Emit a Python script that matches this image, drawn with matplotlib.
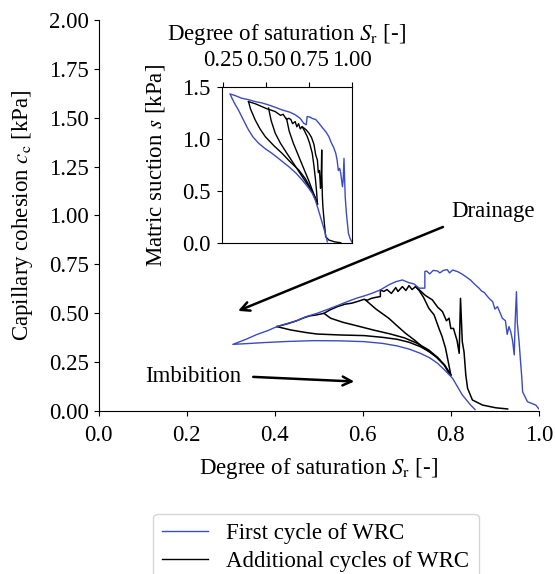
#!/usr/bin/env python3
"""Capillary cohesion vs degree of saturation, with WRC inset."""

import matplotlib

matplotlib.use("Agg")
import matplotlib.pyplot as plt
from matplotlib.lines import Line2D

plt.rcParams["font.family"] = ["Liberation Serif", "DejaVu Serif"]
plt.rcParams["mathtext.fontset"] = "stix"
plt.rcParams["font.size"] = 16.5

BLUE = "#3b4cc0"

# ---- main panel: capillary cohesion c_c [kPa] vs S_r ----
# first cycle: drainage (right -> left) then imbibition (left -> right)
first_sr = [
    1.000, 0.993, 0.974, 0.963, 0.961, 0.958, 0.955, 0.951, 0.949, 0.946,
    0.944, 0.940, 0.936, 0.932, 0.928, 0.924, 0.917, 0.912, 0.906, 0.900,
    0.895, 0.889, 0.883, 0.876, 0.870, 0.864, 0.855, 0.845, 0.834, 0.825,
    0.815, 0.804, 0.797, 0.792, 0.783, 0.775, 0.770, 0.760, 0.752, 0.745,
    0.741, 0.741, 0.738, 0.728, 0.716, 0.705, 0.690, 0.675, 0.660, 0.640,
    0.620, 0.603, 0.585, 0.565, 0.545, 0.520, 0.496, 0.470, 0.450, 0.430,
    0.405, 0.385, 0.360, 0.335, 0.305,
    0.330, 0.375, 0.430, 0.489, 0.550, 0.603, 0.645, 0.678, 0.705, 0.731,
    0.752, 0.770, 0.787, 0.804, 0.826, 0.845, 0.855,
]
first_cc = [
    0.008, 0.028, 0.045, 0.096, 0.173, 0.260, 0.353, 0.450, 0.609, 0.450,
    0.285, 0.360, 0.404, 0.430, 0.390, 0.460, 0.473, 0.500, 0.532, 0.520,
    0.558, 0.570, 0.585, 0.605, 0.612, 0.627, 0.645, 0.668, 0.686, 0.700,
    0.712, 0.720, 0.705, 0.722, 0.718, 0.705, 0.715, 0.718, 0.700, 0.715,
    0.712, 0.627, 0.627, 0.627, 0.649, 0.655, 0.669, 0.660, 0.645, 0.618,
    0.600, 0.587, 0.575, 0.558, 0.540, 0.518, 0.498, 0.480, 0.460, 0.447,
    0.430, 0.410, 0.390, 0.365, 0.339,
    0.342, 0.348, 0.354, 0.358, 0.357, 0.353, 0.344, 0.331, 0.315, 0.293,
    0.270, 0.242, 0.205, 0.165, 0.080, 0.028, 0.005,
]

# additional cycles (each a separate branch)
drain1_sr = [
    0.800, 0.795, 0.788, 0.780, 0.773, 0.762, 0.750, 0.738, 0.728, 0.720,
    0.712, 0.705, 0.698, 0.690, 0.680, 0.675, 0.665, 0.655, 0.648, 0.640,
    0.640, 0.630, 0.620, 0.610, 0.603, 0.590, 0.575, 0.560, 0.542, 0.525,
    0.512, 0.495, 0.480, 0.466, 0.450, 0.430, 0.405,
]
drain1_cc = [
    0.182, 0.240, 0.319, 0.380, 0.421, 0.490, 0.524, 0.580, 0.615, 0.635,
    0.620, 0.640, 0.615, 0.635, 0.610, 0.630, 0.600, 0.620, 0.610, 0.618,
    0.584, 0.580, 0.575, 0.565, 0.570, 0.560, 0.550, 0.545, 0.532, 0.515,
    0.498, 0.490, 0.485, 0.475, 0.460, 0.445, 0.430,
]
drain2_sr = [
    0.929, 0.902, 0.872, 0.849, 0.838, 0.834, 0.830, 0.826, 0.822, 0.819,
    0.814, 0.810, 0.806, 0.800, 0.796, 0.790, 0.781, 0.770, 0.758, 0.742,
    0.730, 0.720,
]
drain2_cc = [
    0.008, 0.014, 0.028, 0.054, 0.114, 0.182, 0.300, 0.353, 0.575, 0.293,
    0.360, 0.390, 0.421, 0.420, 0.473, 0.460, 0.507, 0.530, 0.567, 0.590,
    0.615, 0.635,
]
wet1_sr = [0.405, 0.436, 0.470, 0.496, 0.550, 0.603, 0.645, 0.678, 0.705,
           0.731, 0.752, 0.770, 0.786, 0.800]
wet1_cc = [0.430, 0.413, 0.400, 0.392, 0.387, 0.384, 0.375, 0.365, 0.350,
           0.327, 0.300, 0.270, 0.232, 0.182]
wet2_sr = [0.512, 0.527, 0.555, 0.580, 0.625, 0.663, 0.695, 0.724, 0.750,
           0.770, 0.786, 0.800]
wet2_cc = [0.498, 0.473, 0.452, 0.438, 0.412, 0.392, 0.372, 0.344, 0.310,
           0.272, 0.232, 0.182]
wet3_sr = [0.606, 0.630, 0.659, 0.680, 0.697, 0.718, 0.735, 0.752, 0.766,
           0.785, 0.796]
wet3_cc = [0.567, 0.520, 0.473, 0.430, 0.396, 0.360, 0.327, 0.300, 0.276,
           0.233, 0.190]

# ---- inset: matric suction s [kPa] vs S_r ----
in_first_sr = [
    1.000, 0.990, 0.981, 0.969, 0.962, 0.955, 0.950, 0.946, 0.940, 0.936,
    0.930, 0.922, 0.915, 0.907, 0.895, 0.880, 0.867, 0.850, 0.830, 0.809,
    0.790, 0.770, 0.755, 0.740, 0.735, 0.720, 0.700, 0.672, 0.640, 0.594,
    0.550, 0.515, 0.475, 0.437, 0.400, 0.359, 0.320, 0.290,
    0.300, 0.315, 0.339, 0.370, 0.398, 0.425, 0.457, 0.495, 0.535, 0.585,
    0.633, 0.675, 0.711, 0.745, 0.770, 0.787, 0.800, 0.815, 0.829, 0.845,
    0.858,
]
in_first_s = [
    0.015, 0.050, 0.096, 0.288, 0.450, 0.817, 0.600, 0.544, 0.620, 0.673,
    0.720, 0.700, 0.800, 0.865, 0.920, 0.970, 1.025, 1.070, 1.110, 1.154,
    1.190, 1.200, 1.215, 1.218, 1.140, 1.154, 1.200, 1.234, 1.260, 1.282,
    1.310, 1.330, 1.350, 1.362, 1.380, 1.394, 1.420, 1.436,
    1.400, 1.350, 1.282, 1.180, 1.090, 1.020, 0.962, 0.910, 0.865, 0.800,
    0.737, 0.675, 0.609, 0.540, 0.481, 0.420, 0.352, 0.270, 0.192, 0.100,
    0.015,
]
in_drain1_sr = [
    0.800, 0.795, 0.789, 0.780, 0.770, 0.755, 0.741, 0.725, 0.711, 0.700,
    0.690, 0.680, 0.670, 0.655, 0.645, 0.633, 0.620, 0.600, 0.585, 0.554,
    0.530, 0.510, 0.476, 0.440, 0.398,
]
in_drain1_s = [
    0.380, 0.500, 0.609, 0.740, 0.865, 0.960, 1.025, 1.080, 1.121, 1.100,
    1.150, 1.120, 1.170, 1.150, 1.190, 1.202, 1.190, 1.240, 1.230, 1.266,
    1.280, 1.290, 1.314, 1.340, 1.362,
]
in_drain2_sr = [
    0.936, 0.900, 0.867, 0.848, 0.840, 0.832, 0.829, 0.826, 0.825, 0.822,
    0.818, 0.812, 0.805, 0.800, 0.790, 0.780, 0.765, 0.750, 0.735, 0.720,
    0.711,
]
in_drain2_s = [
    0.006, 0.015, 0.032, 0.064, 0.200, 0.350, 0.448, 0.650, 0.897, 0.600,
    0.530, 0.700, 0.680, 0.800, 0.850, 0.950, 1.020, 1.060, 1.090, 1.110,
    1.121,
]
in_wet1_sr = [0.398, 0.410, 0.437, 0.465, 0.496, 0.545, 0.594, 0.640, 0.691,
              0.730, 0.760, 0.785, 0.800]
in_wet1_s = [1.362, 1.290, 1.186, 1.100, 1.025, 0.940, 0.865, 0.785, 0.705,
             0.620, 0.530, 0.450, 0.380]
in_wet2_sr = [0.515, 0.530, 0.554, 0.585, 0.620, 0.660, 0.700, 0.740, 0.770,
              0.800]
in_wet2_s = [1.300, 1.180, 1.058, 0.960, 0.870, 0.770, 0.670, 0.570, 0.490,
             0.380]
in_wet3_sr = [0.620, 0.635, 0.660, 0.690, 0.720, 0.750, 0.775, 0.800]
in_wet3_s = [1.200, 1.080, 0.960, 0.840, 0.720, 0.600, 0.490, 0.380]

main_extra = [
    (drain1_sr, drain1_cc), (drain2_sr, drain2_cc),
    (wet1_sr, wet1_cc), (wet2_sr, wet2_cc), (wet3_sr, wet3_cc),
]
inset_extra = [
    (in_drain1_sr, in_drain1_s), (in_drain2_sr, in_drain2_s),
    (in_wet1_sr, in_wet1_s), (in_wet2_sr, in_wet2_s), (in_wet3_sr, in_wet3_s),
]

fig = plt.figure(figsize=(5.55, 5.74), dpi=100)
ax = fig.add_axes([0.1775, 0.2848, 0.7935, 0.680])

for xs, ys in main_extra:
    ax.plot(xs, ys, color="black", lw=1.1)
ax.plot(first_sr, first_cc, color=BLUE, lw=1.0)

ax.set_xlim(0.0, 1.0)
ax.set_ylim(0.0, 2.0)
ax.set_xticks([0.0, 0.2, 0.4, 0.6, 0.8, 1.0])
ax.set_yticks([0.0, 0.25, 0.5, 0.75, 1.0, 1.25, 1.5, 1.75, 2.0])
ax.set_yticklabels([f"{v:.2f}" for v in ax.get_yticks()])
ax.tick_params(axis="x", pad=7)
ax.set_xlabel(r"Degree of saturation $S_\mathrm{r}$ [-]", labelpad=7)
ax.set_ylabel(r"Capillary cohesion $c_\mathrm{c}$ [kPa]", labelpad=10)
ax.spines["top"].set_visible(False)
ax.spines["right"].set_visible(False)

arrow = dict(arrowstyle="->", lw=1.8, color="black", mutation_scale=16)
ax.annotate("", xy=(0.311, 0.505), xytext=(0.788, 0.946), arrowprops=arrow)
ax.annotate("", xy=(0.587, 0.148), xytext=(0.345, 0.173), arrowprops=arrow)
ax.text(0.802, 1.02, "Drainage", ha="left", va="center")
ax.text(0.105, 0.172, "Imbibition", ha="left", va="center")

# inset
axi = fig.add_axes([0.4005, 0.576, 0.2332, 0.272])
for xs, ys in inset_extra:
    axi.plot(xs, ys, color="black", lw=1.0)
axi.plot(in_first_sr, in_first_s, color=BLUE, lw=1.0)
axi.set_xlim(0.245, 1.0)
axi.set_ylim(0.0, 1.5)
axi.set_xticks([0.25, 0.5, 0.75, 1.0])
axi.set_xticklabels(["0.25", "0.50", "0.75", "1.00"])
axi.set_yticks([0.0, 0.5, 1.0, 1.5])
axi.xaxis.tick_top()
axi.xaxis.set_label_position("top")
axi.tick_params(axis="x", pad=8.5)
axi.tick_params(axis="y", pad=5)
axi.set_xlabel(r"Degree of saturation $S_\mathrm{r}$ [-]", labelpad=7)
axi.set_ylabel(r"Matric suction $s$ [kPa]", labelpad=11)

handles = [
    Line2D([], [], color=BLUE, lw=1.0),
    Line2D([], [], color="black", lw=1.0),
]
fig.legend(handles, ["First cycle of WRC", "Additional cycles of WRC"],
           loc="upper center", bbox_to_anchor=(0.569, 0.125), fontsize=16.5,
           labelspacing=0.3)

fig.savefig("out.png", dpi=100)
